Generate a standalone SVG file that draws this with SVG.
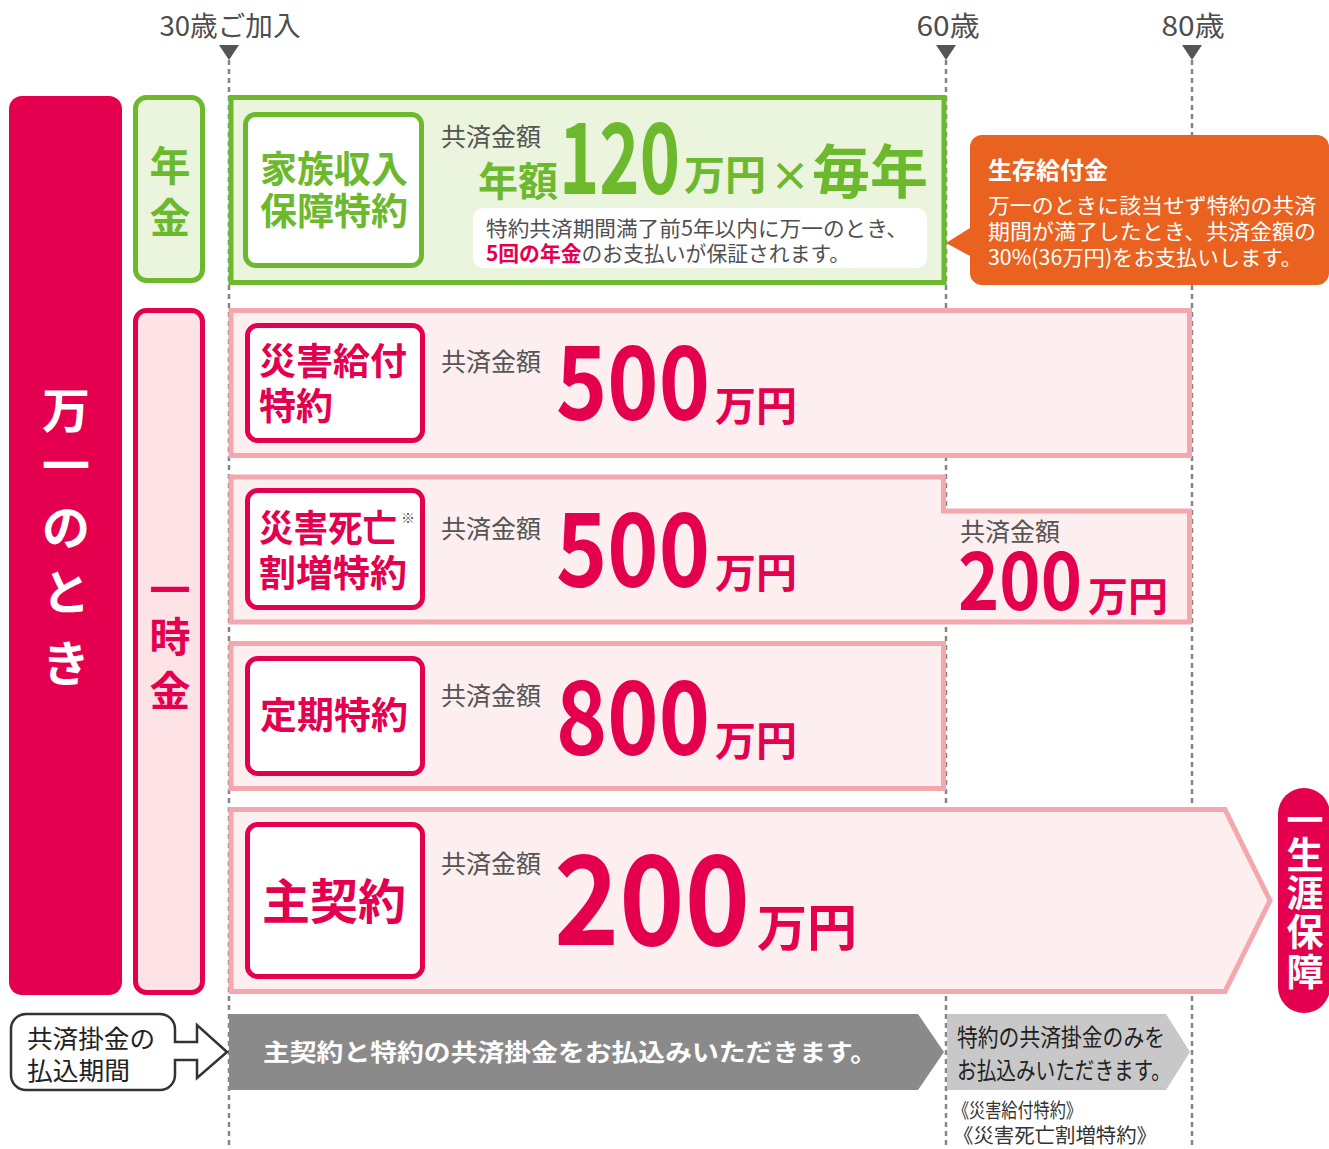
<svg xmlns="http://www.w3.org/2000/svg" width="1329" height="1149" viewBox="0 0 1329 1149">
<style>
text{font-family:"Noto Sans CJK JP","Noto Sans",sans-serif}
.lbl{font-size:27px;fill:#4d4d4d}
.g{fill:#6db92d;font-weight:700}
.r{fill:#e4004f;font-weight:700}
.w{fill:#fff;font-weight:700}
.gy{fill:#505050}
.dash{stroke:#858585;stroke-width:2.5;stroke-dasharray:5 4;fill:none}
.pk{fill:#fdeeef;stroke:#f4a7ad;stroke-width:5}
.inR{fill:#fff;stroke:#e4004f;stroke-width:5}
.amt{font-size:25px;fill:#555}
.ctr{text-anchor:middle}
</style>
<rect width="1329" height="1149" fill="#fff"/>

<g id="timeline">
<path class="dash" d="M229,60V1149M946,60V1149M1192,60V1149"/>
<polygon points="219,45 239,45 229,60" fill="#555"/>
<polygon points="936,45 956,45 946,60" fill="#555"/>
<polygon points="1182,45 1202,45 1192,60" fill="#555"/>
<text class="lbl" x="230" y="36" text-anchor="middle" textLength="141" lengthAdjust="spacingAndGlyphs">30歳ご加入</text>
<text class="lbl" x="948" y="36" text-anchor="middle" textLength="63" lengthAdjust="spacingAndGlyphs">60歳</text>
<text class="lbl" x="1193" y="36" text-anchor="middle" textLength="63" lengthAdjust="spacingAndGlyphs">80歳</text>
</g>

<g id="left-bar">
<rect x="9" y="96" width="113" height="899" rx="13" fill="#e4004f"/>
<g class="w ctr" font-size="48">
<text x="66" y="428">万</text>
<text x="66" y="483">一</text>
<text x="66" y="545">の</text>
<text x="66" y="610">と</text>
<text x="66" y="681">き</text>
</g>
</g>

<g id="nenkin-label">
<rect x="135.5" y="97.5" width="67" height="183" rx="11" fill="#ebf4dc" stroke="#6db92d" stroke-width="5"/>
<text class="g ctr" x="170" y="181" font-size="41">年</text>
<text class="g ctr" x="170" y="233" font-size="41">金</text>
</g>

<g id="ichijikin-label">
<rect x="135.5" y="310.5" width="67" height="682" rx="11" fill="#fde3e6" stroke="#e4004f" stroke-width="5"/>
<text class="r ctr" x="170" y="605" font-size="41">一</text>
<text class="r ctr" x="170" y="652" font-size="41">時</text>
<text class="r ctr" x="170" y="706" font-size="41">金</text>
</g>

<g id="family-income">
<rect x="231" y="97.5" width="713" height="185" fill="#ebf4dc" stroke="#6db92d" stroke-width="5"/>
<rect x="245.5" y="114.5" width="176" height="151" rx="10" fill="#fff" stroke="#6db92d" stroke-width="5"/>
<text class="g ctr" x="334" y="183" font-size="37">家族収入</text>
<text class="g ctr" x="334" y="225" font-size="37">保障特約</text>
<text class="amt" x="441" y="146">共済金額</text>
<text class="g" x="478" y="196" font-size="40">年額</text>
<text class="g" x="559" y="194" font-size="98" textLength="121" lengthAdjust="spacingAndGlyphs">120</text>
<text class="g" x="684" y="190" font-size="41">万円</text>
<text class="g" x="770" y="191" font-size="40">×</text>
<text class="g" x="812" y="193" font-size="58">毎年</text>
<rect x="473" y="208" width="454" height="60" rx="10" fill="#fff"/>
<text class="gy" x="486" y="236" font-size="21" textLength="422" lengthAdjust="spacingAndGlyphs">特約共済期間満了前5年以内に万一のとき、</text>
<text x="486" y="261" font-size="21" class="gy" textLength="364" lengthAdjust="spacingAndGlyphs"><tspan fill="#e4004f" font-weight="700">5回の年金</tspan>のお支払いが保証されます。</text>
</g>

<g id="survival-benefit">
<path d="M982,135H1317A12,12 0 0 1 1329,147V273A12,12 0 0 1 1317,285H982A12,12 0 0 1 970,273V256L946,243L970,228V147A12,12 0 0 1 982,135Z" fill="#e96220"/>
<text class="w" x="988" y="179" font-size="24">生存給付金</text>
<g fill="#fff" font-size="21">
<text x="988" y="213" textLength="328" lengthAdjust="spacingAndGlyphs">万一のときに該当せず特約の共済</text>
<text x="988" y="239" textLength="328" lengthAdjust="spacingAndGlyphs">期間が満了したとき、共済金額の</text>
<text x="988" y="265" textLength="314" lengthAdjust="spacingAndGlyphs">30%(36万円)をお支払いします。</text>
</g>
</g>

<g id="disaster-benefit">
<rect class="pk" x="231" y="310.5" width="958.5" height="145"/>
<rect class="inR" x="247.5" y="325.5" width="175" height="115" rx="10"/>
<text class="r" x="259" y="375" font-size="37">災害給付</text>
<text class="r" x="259" y="420" font-size="37">特約</text>
<text class="amt" x="441" y="371">共済金額</text>
<text class="r" x="556" y="420" font-size="102" textLength="154" lengthAdjust="spacingAndGlyphs">500</text>
<text class="r" x="715" y="421" font-size="41">万円</text>
</g>

<g id="disaster-death">
<polygon class="pk" points="231,477 943.5,477 943.5,511 1189.5,511 1189.5,622 231,622"/>
<rect class="inR" x="247.5" y="490.5" width="175" height="117" rx="10"/>
<text class="r" x="259" y="542" font-size="37" textLength="138" lengthAdjust="spacingAndGlyphs">災害死亡</text>
<text class="gy" x="401" y="523" font-size="14">※</text>
<text class="r" x="259" y="587" font-size="37">割増特約</text>
<text class="amt" x="441" y="538">共済金額</text>
<text class="r" x="556" y="587" font-size="102" textLength="154" lengthAdjust="spacingAndGlyphs">500</text>
<text class="r" x="715" y="588" font-size="41">万円</text>
<text class="amt" x="960" y="541" font-size="26">共済金額</text>
<text class="r" x="958" y="610" font-size="80" textLength="124" lengthAdjust="spacingAndGlyphs">200</text>
<text class="r" x="1088" y="611" font-size="40">万円</text>
</g>

<g id="term-rider">
<rect class="pk" x="231" y="643.5" width="712.5" height="145"/>
<rect class="inR" x="247.5" y="658.5" width="175" height="115" rx="10"/>
<text class="r ctr" x="334" y="729" font-size="37">定期特約</text>
<text class="amt" x="441" y="705">共済金額</text>
<text class="r" x="556" y="755" font-size="102" textLength="154" lengthAdjust="spacingAndGlyphs">800</text>
<text class="r" x="715" y="756" font-size="41">万円</text>
</g>

<g id="main-contract">
<polygon class="pk" points="231,809.5 1225,809.5 1270,900.5 1225,991.5 231,991.5"/>
<rect class="inR" x="247.5" y="824.5" width="175" height="152" rx="10"/>
<text class="r ctr" x="334" y="919" font-size="48">主契約</text>
<text class="amt" x="441" y="873">共済金額</text>
<text class="r" x="554" y="945" font-size="124" textLength="196" lengthAdjust="spacingAndGlyphs">200</text>
<text class="r" x="757" y="946" font-size="50">万円</text>
</g>

<g id="lifetime">
<rect x="1278" y="788" width="52" height="225" rx="26" fill="#e4004f"/>
<g class="w ctr" font-size="37">
<text x="1305" y="834">一</text>
<text x="1305" y="869">生</text>
<text x="1305" y="907">涯</text>
<text x="1305" y="946">保</text>
<text x="1305" y="986">障</text>
</g>
</g>

<g id="payment-label">
<rect x="11" y="1014" width="164" height="76" rx="15" fill="#fff" stroke="#333" stroke-width="2.5"/>
<rect x="172" y="1043.5" width="6" height="15" fill="#fff"/>
<path d="M174,1042H197V1025L227,1052L197,1078V1060H174" fill="#fff" stroke="#333" stroke-width="2.5"/>
<text x="27" y="1048" font-size="25" fill="#222" textLength="128" lengthAdjust="spacingAndGlyphs">共済掛金の</text>
<text x="27" y="1080" font-size="25" fill="#222" textLength="103" lengthAdjust="spacingAndGlyphs">払込期間</text>
</g>

<g id="connectors">
<polygon points="229,1014 918,1014 944,1052 918,1090 229,1090" fill="#8a8a8a"/>
<polygon points="947,1014 1166,1014 1190,1052 1166,1090 947,1090" fill="#c8c8c8"/>
</g>

<g id="payment-text">
<text class="w" x="263" y="1061" font-size="24" textLength="614" lengthAdjust="spacingAndGlyphs">主契約と特約の共済掛金をお払込みいただきます。</text>
<text x="957" y="1046" font-size="24" fill="#222" textLength="208" lengthAdjust="spacingAndGlyphs">特約の共済掛金のみを</text>
<text x="957" y="1079" font-size="24" fill="#222" textLength="214" lengthAdjust="spacingAndGlyphs">お払込みいただきます。</text>
<text x="953" y="1118" font-size="20" fill="#333" textLength="129" lengthAdjust="spacingAndGlyphs">《災害給付特約》</text>
<text x="953" y="1143" font-size="20" fill="#333" textLength="204" lengthAdjust="spacingAndGlyphs">《災害死亡割増特約》</text>
</g>
</svg>
